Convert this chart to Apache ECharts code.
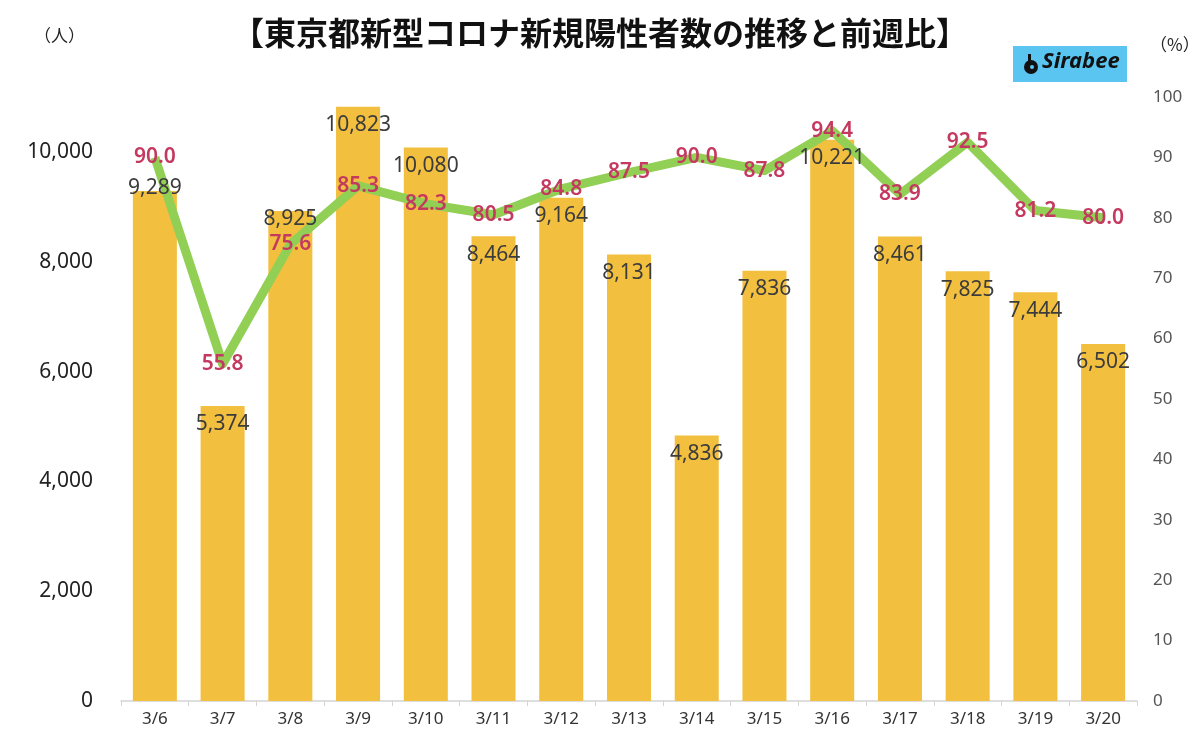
<!DOCTYPE html>
<html>
<head>
<meta charset="utf-8">
<script src="https://cdn.jsdelivr.net/npm/echarts@6/dist/echarts.min.js"></script>
<style>
html,body{margin:0;padding:0;background:#fff;}
#chart{width:1200px;height:747px;}
</style>
</head>
<body>
<div id="chart"></div>
<script>
const categories = ['3/6','3/7','3/8','3/9','3/10','3/11','3/12','3/13','3/14','3/15','3/16','3/17','3/18','3/19','3/20'];
const positives = [9289, 5374, 8925, 10823, 10080, 8464, 9164, 8131, 4836, 7836, 10221, 8461, 7825, 7444, 6502];
const weekRatio = [90.0, 55.8, 75.6, 85.3, 82.3, 80.5, 84.8, 87.5, 90.0, 87.8, 94.4, 83.9, 92.5, 81.2, 80.0];
const leftTicks = [0, 2000, 4000, 6000, 8000, 10000];
const rightTicks = [0, 10, 20, 30, 40, 50, 60, 70, 80, 90, 100];

// label style tweaks (moved clear of the line, as in the original)
const labelShift = {'3/6': -21, '3/8': -10};

const FONT = '"Noto Sans CJK JP", "Noto Sans", sans-serif';
const NUM = '"Noto Sans", "Open Sans", sans-serif';
const chart = echarts.init(document.getElementById('chart'), null, {renderer: 'canvas'});

const barLabelData = positives.map((v, i) => {
  const shift = labelShift[categories[i]];
  return shift ? {value: v, label: {offset: [0, shift]}} : v;
});

chart.setOption({
  backgroundColor: '#ffffff',
  animation: false,
  title: {
    text: '【東京都新型コロナ新規陽性者数の推移と前週比】',
    left: 'center',
    top: 12,
    textStyle: {fontFamily: FONT, fontSize: 32, fontWeight: 'bold', color: '#111'}
  },
  graphic: [
    {type: 'text', left: 34, top: 27, style: {text: '（人）', fontFamily: FONT, fontSize: 17, fill: '#222'}},
    {type: 'text', left: 1150, top: 36, style: {text: '（%）', fontFamily: FONT, fontSize: 17, fill: '#222'}},
    {type: 'group', left: 1013, top: 46, children: [
      {type: 'rect', shape: {x: 0, y: 0, width: 114, height: 36}, style: {fill: '#5BC5F2'}},
      {type: 'circle', shape: {cx: 18, cy: 21, r: 7}, style: {fill: '#111'}},
      {type: 'circle', shape: {cx: 19, cy: 21, r: 2}, style: {fill: '#5BC5F2'}},
      {type: 'rect', shape: {x: 15, y: 8, width: 3, height: 8}, style: {fill: '#111'}},
      {type: 'text', x: 29, y: 5, style: {text: 'Sirabee', fontFamily: '"Noto Sans", sans-serif', fontSize: 22, fontWeight: 'bold', fontStyle: 'italic', fill: '#111'}}
    ]}
  ],
  grid: {left: 121, right: 63, top: 97, bottom: 46, containLabel: false},
  xAxis: {
    type: 'category',
    data: categories,
    boundaryGap: true,
    axisLine: {show: true, lineStyle: {color: '#d4d4d4', width: 1.5}},
    axisTick: {show: true, length: 5, lineStyle: {color: '#d4d4d4'}},
    axisLabel: {fontFamily: NUM, fontSize: 17, color: '#333', margin: 10}
  },
  yAxis: [
    {
      type: 'value', min: 0, max: 11000, interval: 2000,
      splitLine: {show: false}, axisLine: {show: false}, axisTick: {show: false},
      axisLabel: {
        fontFamily: NUM, fontSize: 21, color: '#222', margin: 28,
        showMaxLabel: false,
        formatter: v => leftTicks.includes(v) ? v.toLocaleString('en-US') : ''
      }
    },
    {
      type: 'value', min: 0, max: 100, interval: 10,
      splitLine: {show: false}, axisLine: {show: false}, axisTick: {show: false},
      axisLabel: {
        fontFamily: NUM, fontSize: 17, color: '#555', margin: 16,
        formatter: v => rightTicks.includes(v) ? String(v) : ''
      }
    }
  ],
  series: [
    {
      type: 'bar',
      yAxisIndex: 0,
      data: positives,
      barWidth: '65%',
      barGap: '-100%',
      itemStyle: {color: '#F2BF3F'},
      z: 2
    },
    {
      type: 'line',
      yAxisIndex: 1,
      data: weekRatio,
      z: 3,
      showSymbol: false,
      lineStyle: {color: '#92CF55', width: 9, join: 'round'}
    },
    {
      // label layer for the bars, drawn above the line
      type: 'bar',
      yAxisIndex: 0,
      data: barLabelData,
      barWidth: '65%',
      barGap: '-100%',
      itemStyle: {color: 'rgba(0,0,0,0)'},
      z: 5,
      silent: true,
      label: {
        show: true, position: 'insideTop', distance: 8,
        fontFamily: NUM, fontSize: 21, color: '#3c3c3c',
        formatter: p => p.value.toLocaleString('en-US')
      }
    },
    {
      // label layer for the ratio line
      type: 'line',
      yAxisIndex: 1,
      data: weekRatio,
      z: 6,
      silent: true,
      showSymbol: true,
      symbol: 'circle',
      symbolSize: 1,
      itemStyle: {color: 'rgba(0,0,0,0)'},
      lineStyle: {opacity: 0},
      label: {
        show: true, position: 'inside',
        fontFamily: NUM, fontSize: 21, fontWeight: 600, color: '#C4395F',
        formatter: p => p.value.toFixed(1)
      }
    }
  ]
});
</script>
</body>
</html>
